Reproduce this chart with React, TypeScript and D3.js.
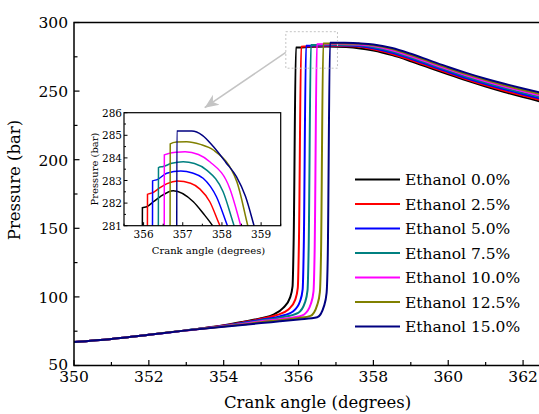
import React from 'react';
import * as d3 from 'd3';

// ---- data: crank angle (deg) vs cylinder pressure (bar) ----
const labels = ['Ethanol 0.0%', 'Ethanol 2.5%', 'Ethanol 5.0%', 'Ethanol 7.5%', 'Ethanol 10.0%', 'Ethanol 12.5%', 'Ethanol 15.0%'];
const colors = ['#000000', '#ff0000', '#0000ff', '#008080', '#ff00ff', '#808000', '#000080'];

const main00 = [[350, 67.2], [351, 69.4], [352, 72.4], [353, 75.6], [354, 79.3], [354.5, 81.8], [355, 84.5], [355.33, 87.1], [355.59, 92.0], [355.77, 99.3], [355.84, 107.7], [355.87, 141.7], [355.93, 281.8], [356.08, 281.84], [356.42, 282.28], [356.76, 282.55], [357.27, 282.06], [357.6, 281.3], [358, 279.6], [358.5, 276.2], [359, 271.8], [359.5, 267.0], [360, 262.2], [360.5, 257.6], [361, 253.3], [361.5, 249.3], [362, 245.6], [362.5, 242.2], [363, 239.0]];
const main25 = [[350, 67.2], [351, 69.4], [352, 72.4], [353, 75.6], [354, 79.1], [354.5, 81.4], [355, 84.0], [355.4, 86.6], [355.73, 90.8], [355.91, 97.8], [355.98, 106.5], [356.01, 139], [356.07, 282.38], [356.2, 282.45], [356.42, 282.68], [356.86, 282.98], [357.44, 282.65], [357.69, 282.06], [358, 280.4], [358.5, 277.1], [359, 272.7], [359.5, 267.9], [360, 263.1], [360.5, 258.5], [361, 254.3], [361.5, 250.3], [362, 246.7], [362.5, 243.3], [363, 240.1]];
const main50 = [[350, 67.2], [351, 69.4], [352, 72.4], [353, 75.6], [354, 78.9], [354.5, 81.0], [355, 83.4], [355.5, 85.8], [355.86, 89.6], [356.04, 96.8], [356.11, 105.5], [356.14, 137], [356.2, 282.98], [356.33, 283.04], [356.59, 283.32], [356.95, 283.42], [357.52, 283.1], [358, 281.2], [358.5, 278.0], [359, 273.6], [359.5, 268.8], [360, 264.0], [360.5, 259.4], [361, 255.2], [361.5, 251.3], [362, 247.7], [362.5, 244.3], [363, 241.2]];
const main75 = [[350, 67.2], [351, 69.4], [352, 72.4], [353, 75.6], [354, 78.7], [354.5, 80.6], [355, 82.8], [355.5, 84.9], [355.99, 88.4], [356.17, 95.8], [356.24, 104.8], [356.27, 135], [356.33, 283.57], [356.48, 283.62], [356.72, 283.76], [357.01, 283.83], [357.61, 283.46], [358, 282.0], [358.5, 278.9], [359, 274.5], [359.5, 269.7], [360, 264.9], [360.5, 260.3], [361, 256.1], [361.5, 252.3], [362, 248.7], [362.5, 245.4], [363, 242.3]];
const main100 = [[350, 67.2], [351, 69.4], [352, 72.4], [353, 75.6], [354, 78.6], [354.5, 80.3], [355, 82.2], [355.5, 83.8], [356, 85.7], [356.15, 87.2], [356.33, 95.0], [356.4, 104], [356.43, 133], [356.49, 284.13], [356.62, 284.2], [357.06, 284.27], [357.69, 283.83], [358, 282.8], [358.5, 279.8], [359, 275.4], [359.5, 270.6], [360, 265.8], [360.5, 261.3], [361, 257.1], [361.5, 253.3], [362, 249.8], [362.5, 246.5], [363, 243.4]];
const main125 = [[350, 67.2], [351, 69.4], [352, 72.4], [353, 75.6], [354, 78.4], [354.5, 79.9], [355, 81.6], [355.5, 83.0], [356, 84.6], [356.32, 86.2], [356.5, 94.2], [356.57, 103.5], [356.6, 130], [356.66, 284.62], [356.84, 284.7], [357.1, 284.72], [357.6, 284.45], [358, 283.4], [358.5, 280.6], [359, 276.3], [359.5, 271.5], [360, 266.7], [360.5, 262.2], [361, 258.1], [361.5, 254.3], [362, 250.8], [362.5, 247.6], [363, 244.5]];
const main150 = [[350, 67.2], [351, 69.4], [352, 72.4], [353, 75.6], [354, 78.3], [354.5, 79.5], [355, 80.9], [355.5, 82.2], [356, 83.6], [356.5, 85.2], [356.68, 93.3], [356.75, 103], [356.78, 128], [356.84, 285.19], [357.23, 285.19], [357.6, 284.8], [358, 284.0], [358.5, 281.4], [359, 277.2], [359.5, 272.4], [360, 267.6], [360.5, 263.1], [361, 259.0], [361.5, 255.3], [362, 251.9], [362.5, 248.7], [363, 245.6]];

// zoomed inset, 355.5 - 359.5 deg, 281 - 286 bar
const inset00 = [[355.965, 279], [355.97, 281.8], [356.08, 281.84], [356.25, 282.06], [356.42, 282.28], [356.76, 282.55], [357.27, 282.06], [357.52, 281.55], [357.76, 281.0], [357.9, 280.6]];
const inset25 = [[356.095, 279], [356.1, 282.39], [356.22, 282.45], [356.42, 282.68], [356.6, 282.86], [356.86, 282.98], [357.2, 282.88], [357.44, 282.62], [357.69, 282.06], [357.95, 281.0], [358.1, 280.5]];
const inset50 = [[356.225, 279], [356.23, 282.98], [356.35, 283.04], [356.59, 283.32], [356.95, 283.42], [357.25, 283.33], [357.52, 283.1], [357.86, 282.28], [358.14, 281.0], [358.3, 280.3]];
const inset75 = [[356.375, 279], [356.38, 283.57], [356.5, 283.62], [356.72, 283.76], [357.01, 283.83], [357.3, 283.75], [357.61, 283.46], [358.03, 282.5], [358.31, 281.0], [358.45, 280.3]];
const inset100 = [[356.525, 279], [356.53, 284.13], [356.65, 284.2], [356.85, 284.25], [357.06, 284.27], [357.4, 284.15], [357.69, 283.83], [358.2, 282.65], [358.48, 281.0], [358.6, 280.2]];
const inset125 = [[356.675, 279], [356.68, 284.62], [356.84, 284.7], [357.1, 284.72], [357.45, 284.6], [357.78, 284.35], [358.38, 282.95], [358.66, 281.0], [358.78, 280.2]];
const inset150 = [[356.845, 279], [356.85, 285.19], [357.23, 285.19], [357.5, 285.0], [357.78, 284.5], [358.1, 283.8], [358.37, 283.17], [358.6, 282.3], [358.82, 281.0], [358.95, 280.2]];

const mainSeries = [main00, main25, main50, main75, main100, main125, main150];
const insetSeries = [inset00, inset25, inset50, inset75, inset100, inset125, inset150];

const xTicks = [350, 352, 354, 356, 358, 360, 362];
const yTicks = [50, 100, 150, 200, 250, 300];
const insetXTicks = [356, 357, 358, 359];
const insetYTicks = [281, 282, 283, 284, 285, 286];

const FONT = '"DejaVu Serif", serif';

export default function App() {
  // main plot scales (right edge runs past the picture)
  const x = d3.scaleLinear().domain([350, 363]).range([74, 560.5]);
  const y = d3.scaleLinear().domain([50, 300]).range([365.5, 22.5]);
  const [x0, x1] = x.range();
  const [yb, yt] = y.range();

  // inset scales
  const ix = d3.scaleLinear().domain([355.5, 359.5]).range([124, 280.7]);
  const iy = d3.scaleLinear().domain([281, 286]).range([225.7, 112.7]);
  const [ix0, ix1] = ix.range();
  const [iyb, iyt] = iy.range();

  const line = d3.line<number[]>().x(d => x(d[0])).y(d => y(d[1])).curve(d3.curveMonotoneX);
  const iline = d3.line<number[]>().x(d => ix(d[0])).y(d => iy(d[1])).curve(d3.curveMonotoneX);

  const xMinor = d3.range(351, 363, 2);
  const yMinor = d3.range(75, 300, 50);
  const ixMinor = d3.range(355.5, 359.6, 1);
  const iyMinor = d3.range(281.5, 286, 1);

  // zoom box on the main plot and the arrow to the inset
  const bx0 = x(355.66), bx1 = x(357.04), by0 = y(293.3), by1 = y(266.7);
  const ax0 = bx0, ay0 = y(278.2);
  const ax1 = ix(357.56), ay1 = iyt - 5;

  return (
    <svg width={539} height={414} style={{ position: 'absolute', left: 0, top: 0, background: '#fff', fontFamily: FONT }}>
      <defs>
        <clipPath id="mainClip"><rect x={x0} y={yt} width={x1 - x0} height={yb - yt} /></clipPath>
        <clipPath id="insetClip"><rect x={ix0} y={iyt} width={ix1 - ix0} height={iyb - iyt} /></clipPath>
        <marker id="arrowHead" viewBox="-14 -7 16 14" markerWidth={16} markerHeight={14} refX={0} refY={0} orient="auto" markerUnits="userSpaceOnUse">
          <path d="M0,0 L-14,-6 L-10,0 L-14,6 Z" fill="#c4c4c4" />
        </marker>
      </defs>
      <rect x={0} y={0} width={539} height={414} fill="#fff" />

      {/* curves */}
      <g clipPath="url(#mainClip)">
        {mainSeries.map((s, i) => (
          <path key={i} d={line(s) || ''} fill="none" stroke={colors[i]} strokeWidth={2} />
        ))}
      </g>

      {/* frame and axes */}
      <path d={`M${x1},${yt}H${x0}V${yb}H${x1}`} fill="none" stroke="#000" strokeWidth={1.5} />
      {xTicks.map(t => (
        <g key={t}>
          <line x1={x(t)} x2={x(t)} y1={yb} y2={yb - 5.5} stroke="#000" strokeWidth={1.2} />
          <text x={x(t)} y={381.5} textAnchor="middle" fontSize={15.5}>{t}</text>
        </g>
      ))}
      {xMinor.map(t => (
        <line key={t} x1={x(t)} x2={x(t)} y1={yb} y2={yb - 3.5} stroke="#000" strokeWidth={1.2} />
      ))}
      {yTicks.map(t => (
        <g key={t}>
          <line x1={x0} x2={x0 + 5.5} y1={y(t)} y2={y(t)} stroke="#000" strokeWidth={1.2} />
          <text x={68} y={y(t) + (t === 50 ? 4 : 5.8)} textAnchor="end" fontSize={15.5}>{t}</text>
        </g>
      ))}
      {yMinor.map(t => (
        <line key={t} x1={x0} x2={x0 + 3.5} y1={y(t)} y2={y(t)} stroke="#000" strokeWidth={1.2} />
      ))}
      <text x={317.5} y={408} textAnchor="middle" fontSize={16.5}>Crank angle (degrees)</text>
      <text transform="translate(20,180) rotate(-90)" textAnchor="middle" fontSize={16.5}>Pressure (bar)</text>

      {/* zoom marker */}
      <rect x={bx0} y={by0} width={bx1 - bx0} height={by1 - by0} fill="none" stroke="#c4c4c4" strokeWidth={1} strokeDasharray="2,2" />
      <line x1={ax0} y1={ay0} x2={ax1} y2={ay1} stroke="#c4c4c4" strokeWidth={1.6} markerEnd="url(#arrowHead)" />

      {/* inset */}
      <rect x={ix0} y={iyt} width={ix1 - ix0} height={iyb - iyt} fill="#fff" />
      <g clipPath="url(#insetClip)">
        {insetSeries.map((s, i) => (
          <path key={i} d={iline(s) || ''} fill="none" stroke={colors[i]} strokeWidth={1.5} />
        ))}
      </g>
      <rect x={ix0} y={iyt} width={ix1 - ix0} height={iyb - iyt} fill="none" stroke="#000" strokeWidth={1.2} />
      {insetXTicks.map(t => (
        <g key={t}>
          <line x1={ix(t)} x2={ix(t)} y1={iyb} y2={iyb - 3.5} stroke="#000" strokeWidth={1} />
          <text x={ix(t)} y={238.3} textAnchor="middle" fontSize={10.5}>{t}</text>
        </g>
      ))}
      {ixMinor.map(t => (
        <line key={t} x1={ix(t)} x2={ix(t)} y1={iyb} y2={iyb - 2} stroke="#000" strokeWidth={1} />
      ))}
      {insetYTicks.map(t => (
        <g key={t}>
          <line x1={ix0} x2={ix0 + 3.5} y1={iy(t)} y2={iy(t)} stroke="#000" strokeWidth={1} />
          <text x={122} y={iy(t) + 4} textAnchor="end" fontSize={10.5}>{t}</text>
        </g>
      ))}
      {iyMinor.map(t => (
        <line key={t} x1={ix0} x2={ix0 + 2} y1={iy(t)} y2={iy(t)} stroke="#000" strokeWidth={1} />
      ))}
      <text x={208.5} y={253.5} textAnchor="middle" fontSize={10}>Crank angle (degrees)</text>
      <text transform="translate(97.5,169) rotate(-90)" textAnchor="middle" fontSize={10}>Pressure (bar)</text>

      {/* legend */}
      {labels.map((l, i) => (
        <g key={l}>
          <line x1={355} x2={400} y1={179.5 + i * 24.5} y2={179.5 + i * 24.5} stroke={colors[i]} strokeWidth={2} />
          <text x={405} y={179.5 + i * 24.5 + 5.8} fontSize={15.5}>{l}</text>
        </g>
      ))}
    </svg>
  );
}
